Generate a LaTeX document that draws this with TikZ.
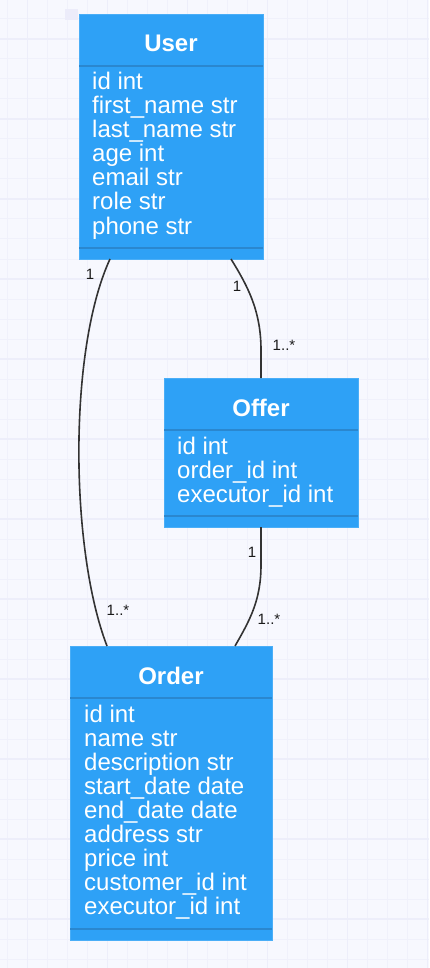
\documentclass[tikz,border=0pt]{standalone}
\usepackage{fontspec}
\setmainfont{Liberation Sans}
\definecolor{bgc}{HTML}{F7F8FE}
\definecolor{gridminor}{HTML}{F0F1FB}
\definecolor{gridmajor}{HTML}{EDEEFA}
\definecolor{boxc}{HTML}{2EA1F6}
\definecolor{boxedge}{HTML}{4AAEF7}
\definecolor{sepc}{HTML}{2A87CF}
\definecolor{connc}{HTML}{333333}
\definecolor{labc}{HTML}{1A1A1A}
\definecolor{markc}{HTML}{ECECFA}
\begin{document}
\begin{tikzpicture}[x=1pt,y=-1pt,
  box/.style={rectangle, fill=boxc, draw=boxedge, line width=0.8pt, inner sep=0pt, outer sep=0pt, anchor=north west},
  titletext/.style={text=white, font=\bfseries\fontsize{24}{24}\selectfont, inner sep=0pt, anchor=base},
  attr/.style={text=white, font=\fontsize{24}{24}\selectfont, inner sep=0pt, anchor=base west},
  sepline/.style={draw=sepc, line width=2pt},
  conn/.style={draw=connc, line width=1.6pt},
  mult/.style={text=labc, font=\fontsize{15}{15}\selectfont, inner sep=0pt},
  gminor/.style={draw=gridminor, line width=1pt},
  gmajor/.style={draw=gridmajor, line width=1.6pt}]
% background and grid
\fill[bgc] (0,0) rectangle (429,968);
\useasboundingbox (0,0) rectangle (429,968);
\foreach \x in {7.5,27.5,...,427.5} \draw[gminor] (\x,0) -- (\x,968);
\foreach \y in {19,39,...,959} \draw[gminor] (0,\y) -- (429,\y);
\foreach \x in {27.5,107.5,...,427.5} \draw[gmajor] (\x,0) -- (\x,968);
\foreach \y in {39,119,...,919} \draw[gmajor] (0,\y) -- (429,\y);
\fill[markc] (65,9) rectangle (78,20);

% boxes
\node[box, minimum width=184pt, minimum height=245pt] (user) at (79,14) {};
\node[box, minimum width=194pt, minimum height=149pt] (offer) at (164,378) {};
\node[box, minimum width=202pt, minimum height=294pt] (order) at (70,646) {};

\foreach \b in {user,offer,order}{
  \draw[sepline] ([yshift=-52pt]\b.north west) -- ([yshift=-52pt]\b.north east);
  \draw[sepline] ([yshift=11pt]\b.south west) -- ([yshift=11pt]\b.south east);
}

% titles
\node[titletext] (user-title) at ([yshift=-38pt]user.north) {User};
\node[titletext] (offer-title) at ([yshift=-38pt]offer.north) {Offer};
\node[titletext] (order-title) at ([yshift=-38pt]order.north) {Order};

% attributes
\foreach \t [count=\i from 0] in {id int, first\_name str, last\_name str, age int, email str, role str, phone str}
  \node[attr] (user-a\i) at ([xshift=13pt, yshift={-(76+24*\i)*1pt}]user.north west) {\t};
\foreach \t [count=\i from 0] in {id int, order\_id int, executor\_id int}
  \node[attr] (offer-a\i) at ([xshift=13pt, yshift={-(76+24*\i)*1pt}]offer.north west) {\t};
\foreach \t [count=\i from 0] in {id int, name str, description str, start\_date date, end\_date date, address str, price int, customer\_id int, executor\_id int}
  \node[attr] (order-a\i) at ([xshift=14pt, yshift={-(76+24*\i)*1pt}]order.north west) {\t};

% connectors
\draw[conn] ([xshift=31pt]user.south west) .. controls (68,350) and (70,550) .. ([xshift=37pt]order.north west);
\draw[conn] ([xshift=152pt]user.south west) .. controls (247,285) and (261,310) .. (261,350) -- ([xshift=97pt]offer.north west);
\draw[conn] ([xshift=97pt]offer.south west) -- (261,565) .. controls (261,600) and (250,620) .. ([xshift=165pt]order.north west);

% multiplicities
\node[mult] (m1) at (90,274) {1};
\node[mult] (m2) at (237,286) {1};
\node[mult] (m3) at (284,345) {1..*};
\node[mult] (m4) at (252,552) {1};
\node[mult] (m5) at (118,610) {1..*};
\node[mult] (m6) at (269,619) {1..*};
\end{tikzpicture}
\end{document}
